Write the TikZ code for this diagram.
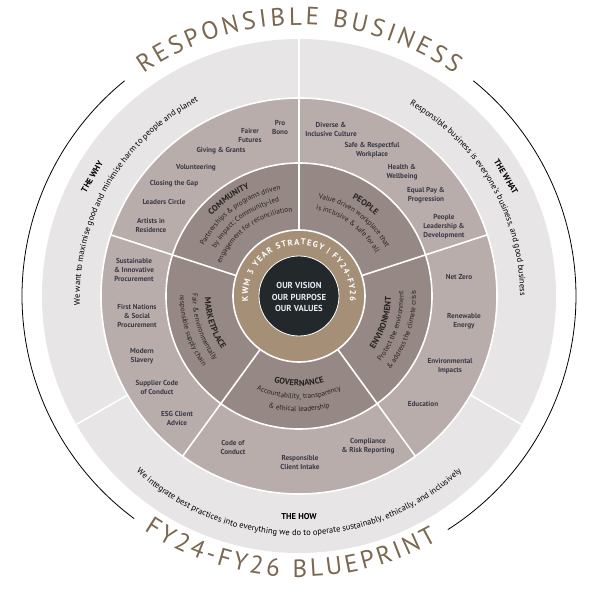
\documentclass[tikz,border=0pt]{standalone}
\usepackage{fontspec}
\setmainfont{PT Sans}
\newfontfamily\titlefont{PT Sans}
\usetikzlibrary{decorations.text}

\definecolor{ringgrey}{RGB}{231,229,229}
\definecolor{bandlight}{RGB}{184,173,171}
\definecolor{banddark}{RGB}{150,136,132}
\definecolor{ringtan}{RGB}{165,144,119}
\definecolor{core}{RGB}{35,40,43}
\definecolor{titlebrown}{RGB}{122,103,80}
\definecolor{itemtext}{RGB}{58,57,71}
\definecolor{bandtext}{RGB}{38,34,34}
\definecolor{visiontext}{RGB}{228,236,243}

\newcommand{\bandhead}{\fontsize{8.5}{9}\selectfont\bfseries\color{bandtext}}
\newcommand{\bandline}{\fontsize{7.2}{9}\selectfont\color{bandtext}}
\newcommand{\ringline}{\fontsize{8.5}{10}\selectfont\color{black}}
\newcommand{\bigtitle}{\titlefont\fontsize{25}{25}\selectfont\color{titlebrown}}

\begin{document}
\begin{tikzpicture}[x=1pt,y=1pt]
    \tikzstyle{item} = [align=center, inner sep=0pt, text=itemtext,
        font=\fontsize{7.2}{9}\selectfont\bfseries]
    \tikzstyle{label} = [inner sep=0pt, font=\fontsize{8.5}{9}\selectfont\bfseries]
    \tikzstyle{divider} = [white, line width=1.6pt]
    \tikzstyle{arctext} = [decorate, decoration={text along path, text align=center}]
    \tikzstyle{fittext} = [decorate, decoration={text along path, text align={fit to path}}]

    \useasboundingbox (-299,-296) rectangle (293,296);

    % rings
    \fill[ringgrey] (0,0) circle (257);
    \draw[divider, fill=bandlight] (0,0) circle (198);
    \draw[divider, fill=banddark] (0,0) circle (133);
    \draw[divider, fill=ringtan] (0,0) circle (66);
    \draw[white, line width=0.8pt, fill=core] (0,0) circle (40);

    \foreach \a in {90,18,-54,-126,162}
        \draw[divider] (\a:66) -- (\a:198);
    \foreach \a in {90,-30,-150}
        \draw[divider] (\a:198) -- (\a:257);

    \draw[line width=0.8pt] (129:277) arc[start angle=129, end angle=233.5, radius=277];
    \draw[line width=0.8pt] (-57.5:277) arc[start angle=-57.5, end angle=51, radius=277];

    % titles
    \path[fittext, decoration={text={|\bigtitle|RESPONSIBLE BUSINESS}}]
        (125:271) arc[start angle=125, end angle=55, radius=271];
    \path[fittext, decoration={text={|\bigtitle|FY24-FY26 BLUEPRINT}}]
        (-123.5:281) arc[start angle=-123.5, end angle=-60.5, radius=281];

    % centre
    \node(vision) [align=center, text=visiontext,
        font=\fontsize{8.7}{11.7}\selectfont\bfseries] at (0,-1)
        {OUR VISION\\OUR PURPOSE\\OUR VALUES};
    \path[fittext, decoration={text={|\fontsize{8.5}{9}\selectfont\bfseries\color{white}|KWM 3 YEAR STRATEGY {\textbar} FY24-FY26}}]
        (186:51) arc[start angle=186, end angle=-6, radius=51];

    % community
    \path[arctext, decoration={text={|\bandhead|COMMUNITY}}]
        (170:118.5) arc[start angle=170, end angle=82, radius=118.5];
    \path[arctext, decoration={text={|\bandline|Partnerships {\&} programs driven}}]
        (170:107.5) arc[start angle=170, end angle=82, radius=107.5];
    \path[arctext, decoration={text={|\bandline|by impact; Community-led}}]
        (170:96) arc[start angle=170, end angle=82, radius=96];
    \path[arctext, decoration={text={|\bandline|engagement for reconciliation}}]
        (170:84.5) arc[start angle=170, end angle=82, radius=84.5];

    % people
    \path[arctext, decoration={text={|\bandhead|PEOPLE}}]
        (100:111) arc[start angle=100, end angle=8, radius=111];
    \path[arctext, decoration={text={|\bandline|Value driven workplace that}}]
        (100:99.5) arc[start angle=100, end angle=8, radius=99.5];
    \path[arctext, decoration={text={|\bandline|is inclusive {\&} safe for all}}]
        (100:88) arc[start angle=100, end angle=8, radius=88];

    % environment
    \path[arctext, decoration={text={|\bandhead|ENVIRONMENT}}]
        (-64:92) arc[start angle=-64, end angle=28, radius=92];
    \path[arctext, decoration={text={|\bandline|Protect the environment}}]
        (-64:104.5) arc[start angle=-64, end angle=28, radius=104.5];
    \path[arctext, decoration={text={|\bandline|{\&} address the climate crisis}}]
        (-64:117) arc[start angle=-64, end angle=28, radius=117];

    % governance
    \path[arctext, decoration={text={|\bandhead|GOVERNANCE}}]
        (-136:90) arc[start angle=-136, end angle=-44, radius=90];
    \path[arctext, decoration={text={|\bandline|Accountability, transparency}}]
        (-136:103) arc[start angle=-136, end angle=-44, radius=103];
    \path[arctext, decoration={text={|\bandline|{\&} ethical leadership}}]
        (-136:115.5) arc[start angle=-136, end angle=-44, radius=115.5];

    % marketplace
    \path[arctext, decoration={text={|\bandhead|MARKETPLACE}}]
        (152:94) arc[start angle=152, end angle=244, radius=94];
    \path[arctext, decoration={text={|\bandline|Fair {\&} environmentally}}]
        (152:106.5) arc[start angle=152, end angle=244, radius=106.5];
    \path[arctext, decoration={text={|\bandline|responsible supply chain}}]
        (152:119) arc[start angle=152, end angle=244, radius=119];

    % outer items
    \node(probono) [item] at (-19,169) {Pro\\Bono};
    \node(fairer) [item] at (-49,161) {Fairer\\Futures};
    \node(giving) [item] at (-78,145) {Giving \& Grants};
    \node(volunteer) [item] at (-103,128) {Volunteering};
    \node(closing) [item] at (-125,112) {Closing the Gap};
    \node(leaders) [item] at (-135,94) {Leaders Circle};
    \node(artists) [item] at (-148,71) {Artists in\\Residence};

    \node(diverse) [item] at (32,167) {Diverse \&\\Inclusive Culture};
    \node(safe) [item] at (73,146) {Safe \& Respectful\\Workplace};
    \node(health) [item] at (103,124) {Health \&\\Wellbeing};
    \node(equalpay) [item] at (127,101) {Equal Pay \&\\Progression};
    \node(peoplelead) [item] at (145,69) {People\\Leadership \&\\Development};

    \node(netzero) [item] at (160,19) {Net Zero};
    \node(renewable) [item] at (165,-25) {Renewable\\Energy};
    \node(envimpacts) [item] at (151,-70) {Environmental\\Impacts};
    \node(education) [item] at (124,-108) {Education};

    \node(conduct) [item] at (-66,-151) {Code of\\Conduct};
    \node(intake) [item] at (1,-166) {Responsible\\Client Intake};
    \node(compliance) [item] at (69,-150) {Compliance\\\& Risk Reporting};

    \node(sustainable) [item] at (-165,26) {Sustainable\\\& Innovative\\Procurement};
    \node(firstnations) [item] at (-162,-20) {First Nations\\\& Social\\Procurement};
    \node(slavery) [item] at (-157,-60) {Modern\\Slavery};
    \node(supplier) [item] at (-142,-91) {Supplier Code\\of Conduct};
    \node(esgadvice) [item] at (-122,-122) {ESG Client\\Advice};

    % why, what, how
    \node(why) [label, rotate=60] at (150:239) {THE WHY};
    \node(what) [label, rotate=-60] at (30:239) {THE WHAT};
    \node(how) [label] at (-90:221) {THE HOW};
    \path[arctext, decoration={text={|\ringline|We want to maximise good and minimise harm to people and planet}}]
        (190:219) arc[start angle=190, end angle=110, radius=219];
    \path[arctext, decoration={text={|\ringline|Responsible business is everyone’s business, and good business}}]
        (70:221) arc[start angle=70, end angle=-10, radius=221];
    \path[arctext, decoration={text={|\ringline|We integrate best practices into everything we do to operate sustainably, ethically, and inclusively}}]
        (-140:239.5) arc[start angle=-140, end angle=-40, radius=239.5];
\end{tikzpicture}
\end{document}
